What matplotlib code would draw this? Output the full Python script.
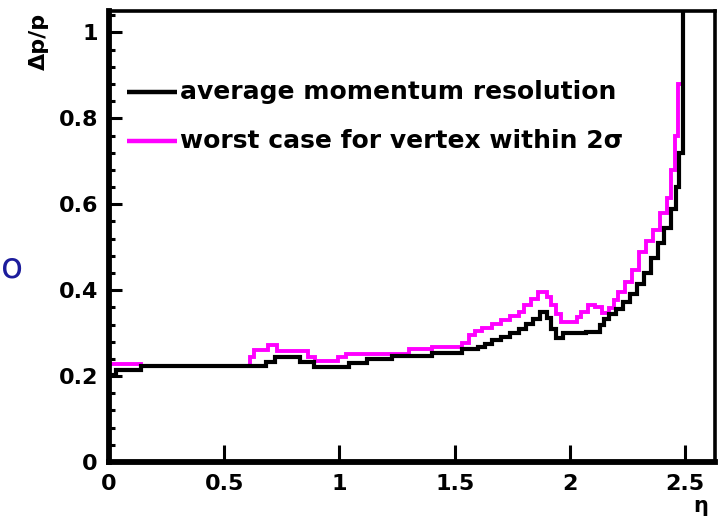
import numpy as np
import matplotlib
matplotlib.use("Agg")
import matplotlib.pyplot as plt

# histogram bin edges and contents
avg_edges = [0, 0.03, 0.14, 0.68, 0.72, 0.83, 0.89, 1.04, 1.12, 1.23, 1.40,
             1.53, 1.60, 1.63, 1.66, 1.70, 1.74, 1.78, 1.81, 1.84, 1.87, 1.90,
             1.92, 1.94, 1.97, 2.07, 2.13, 2.15, 2.17, 2.20, 2.23, 2.26, 2.29,
             2.32, 2.35, 2.38, 2.41, 2.44, 2.46, 2.475, 2.49, 2.50]
avg_vals = [0.202, 0.214, 0.223, 0.233, 0.244, 0.232, 0.221, 0.230, 0.240, 0.247,
            0.254, 0.263, 0.268, 0.274, 0.283, 0.292, 0.301, 0.310, 0.322, 0.333,
            0.350, 0.335, 0.310, 0.288, 0.300, 0.303, 0.318, 0.333, 0.345, 0.356,
            0.372, 0.390, 0.415, 0.440, 0.475, 0.510, 0.545, 0.590, 0.640, 0.720,
            1.300]

worst_edges = [0, 0.14, 0.61, 0.63, 0.69, 0.73, 0.865, 0.895, 0.995, 1.03, 1.21,
               1.30, 1.40, 1.53, 1.56, 1.59, 1.62, 1.66, 1.70, 1.74, 1.78, 1.80,
               1.83, 1.86, 1.90, 1.92, 1.94, 1.96, 2.03, 2.05, 2.08, 2.11, 2.14,
               2.17, 2.19, 2.21, 2.24, 2.27, 2.30, 2.33, 2.36, 2.39, 2.42, 2.44,
               2.455, 2.47, 2.49]
worst_vals = [0.228, 0.223, 0.245, 0.260, 0.272, 0.258, 0.245, 0.234, 0.245, 0.252,
              0.252, 0.262, 0.267, 0.278, 0.295, 0.305, 0.312, 0.322, 0.330, 0.340,
              0.350, 0.365, 0.380, 0.395, 0.385, 0.365, 0.345, 0.326, 0.337, 0.349,
              0.365, 0.362, 0.347, 0.358, 0.377, 0.395, 0.420, 0.447, 0.490, 0.515,
              0.540, 0.580, 0.615, 0.680, 0.760, 0.880]

legend_labels = ["average momentum resolution", "worst case for vertex within 2\u03c3"]

fig = plt.figure(figsize=(7.19, 5.17), dpi=100)
ax = fig.add_axes([0.1516, 0.1064, 0.843, 0.8723])

ax.stairs(worst_vals, worst_edges, baseline=None, color="#ff00ff", linewidth=2.8)
ax.stairs(avg_vals, avg_edges, baseline=None, color="black", linewidth=3.0)

ax.set_xlim(0, 2.63)
ax.set_ylim(0, 1.05)

ax.set_xticks([0, 0.5, 1, 1.5, 2, 2.5])
ax.set_xticklabels(["0", "0.5", "1", "1.5", "2", "2.5"])
ax.set_yticks([0, 0.2, 0.4, 0.6, 0.8, 1])
ax.set_yticklabels(["0", "0.2", "0.4", "0.6", "0.8", "1"])
ax.set_yticks(np.arange(0, 1.05, 0.04), minor=True)

ax.tick_params(axis="both", which="major", direction="in", width=2.2,
               labelsize=16)
ax.tick_params(axis="x", which="major", length=12, pad=9)
ax.tick_params(axis="y", which="major", length=9.5, pad=8)
ax.tick_params(axis="y", which="minor", direction="in", length=4, width=2.2)
for lab in ax.get_xticklabels() + ax.get_yticklabels():
    lab.set_fontweight("bold")

ax.spines["left"].set_linewidth(4.2)
ax.spines["bottom"].set_linewidth(4.2)
ax.spines["top"].set_linewidth(2.6)
ax.spines["right"].set_linewidth(2.6)

# legend drawn by hand like the original
lx0, lx1, ltx = 0.03, 0.112, 0.117
for y, col, lab in [(0.82, "black", legend_labels[0]),
                    (0.712, "#ff00ff", legend_labels[1])]:
    ax.plot([lx0, lx1], [y, y], transform=ax.transAxes, color=col, linewidth=3.2,
            solid_capstyle="butt")
    ax.text(ltx, y, lab, transform=ax.transAxes, fontsize=18, fontweight="bold",
            va="center", ha="left")

fig.text(0.054, 0.975, "\u0394p/p", rotation=90, fontsize=16, fontweight="bold",
         ha="center", va="top")
fig.text(0.975, 0.002, "\u03b7", fontsize=15, fontweight="bold", ha="center", va="bottom")

# stray letter from the slide text on the left edge
fig.text(0.001, 0.482, "o", fontsize=26, color="#1c1c9c", ha="left", va="center")

fig.savefig("out.png", dpi=100, facecolor="white")
